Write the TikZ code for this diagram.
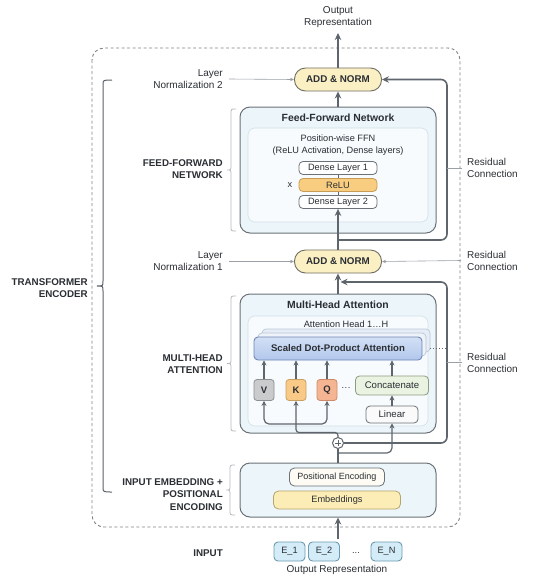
\documentclass[tikz,border=0pt]{standalone}
\usepackage{fontspec}
\setmainfont{Liberation Sans}
\usetikzlibrary{arrows.meta,calc}
\definecolor{txtC}{HTML}{2A2E33}
\definecolor{lineC}{HTML}{5E656C}
\definecolor{thinC}{HTML}{9AA0A6}
\definecolor{dashC}{HTML}{7E8286}
\definecolor{outerF}{HTML}{EBF5FA}
\definecolor{outerD}{HTML}{6B7177}
\definecolor{innerF}{HTML}{F7FBFD}
\definecolor{innerD}{HTML}{D3E1E8}
\definecolor{addF}{HTML}{FBF0C4}
\definecolor{addD}{HTML}{6E6D62}
\definecolor{reluF}{HTML}{F8CD80}
\definecolor{reluD}{HTML}{C89C55}
\definecolor{sdpaT}{HTML}{D3E0F5}
\definecolor{sdpaB}{HTML}{B2C7EC}
\definecolor{sdpaD}{HTML}{6F88B6}
\definecolor{shadF}{HTML}{E7EDF6}
\definecolor{shadD}{HTML}{BAC6D8}
\definecolor{vF}{HTML}{C9CBCC}
\definecolor{vD}{HTML}{8B8F92}
\definecolor{kF}{HTML}{F8C987}
\definecolor{kD}{HTML}{C9A062}
\definecolor{qF}{HTML}{F5B592}
\definecolor{qD}{HTML}{CC8A69}
\definecolor{catF}{HTML}{EAF2E1}
\definecolor{catD}{HTML}{8D9B83}
\definecolor{embF}{HTML}{FBEDB5}
\definecolor{embD}{HTML}{B7A56C}
\definecolor{posF}{HTML}{FDFBF4}
\definecolor{eF}{HTML}{D4ECF7}
\definecolor{eD}{HTML}{6C9BB1}
\definecolor{braceC}{HTML}{B4B9BE}
\definecolor{bigbraceC}{HTML}{5A6067}
\newcommand{\mybrace}[6]{% tip x, line x, end x, top y, bottom y, style
  \draw[#6] (#3,#4) .. controls (#2,#4) .. (#2,{#4+5})
    -- (#2,{(#4+#5)/2-5}) .. controls (#2,{(#4+#5)/2}) .. (#1,{(#4+#5)/2})
    .. controls (#2,{(#4+#5)/2}) .. (#2,{(#4+#5)/2+5})
    -- (#2,{#5-5}) .. controls (#2,#5) .. (#3,#5);}
\begin{document}
\begin{tikzpicture}[x=1pt,y=-1pt,
  lbl/.style={font=\fontsize{10}{12}\selectfont, text=txtC, inner sep=0pt},
  caps/.style={font=\fontsize{9.8}{12.3}\selectfont\bfseries, text=txtC, inner sep=0pt, align=right, anchor=east},
  ttl/.style={font=\fontsize{10.4}{12}\selectfont\bfseries, text=txtC, inner sep=0pt},
  small/.style={font=\fontsize{9.2}{12}\selectfont, text=txtC, inner sep=0pt},
  outerbox/.style={draw=outerD, fill=outerF, line width=1pt, rounded corners=10pt, minimum width=196pt},
  innerbox/.style={draw=innerD, fill=innerF, line width=0.6pt, rounded corners=7pt, minimum width=180pt},
  addbox/.style={draw=addD, fill=addF, line width=0.9pt, rounded corners=11pt, minimum width=87pt, minimum height=23pt, font=\fontsize{9.8}{11}\selectfont\bfseries, text=txtC, inner sep=0pt},
  dense/.style={draw=outerD, fill=white, line width=0.8pt, rounded corners=4pt, minimum width=78pt, minimum height=13pt, font=\fontsize{9.2}{10}\selectfont, text=txtC, inner sep=0pt},
  sq/.style={line width=0.8pt, rounded corners=3pt, minimum width=20pt, minimum height=21pt, font=\fontsize{9.5}{10}\selectfont\bfseries, text=txtC, inner sep=0pt},
  ebox/.style={draw=eD, fill=eF, line width=0.9pt, rounded corners=4pt, minimum width=31pt, minimum height=19pt, font=\fontsize{9.2}{10}\selectfont, text=txtC, inner sep=0pt},
  thk/.style={draw=lineC, line width=1.6pt, rounded corners=6pt},
  thkarr/.style={thk, -{Stealth[length=7pt,width=6.5pt]}},
  med/.style={draw=lineC, line width=1.2pt, rounded corners=5pt},
  medarr/.style={med, -{Stealth[length=5pt,width=5pt]}},
  thinarr/.style={draw=thinC, line width=0.6pt, -{Stealth[length=4pt,width=3.5pt]}},
  thin/.style={draw=thinC, line width=0.6pt}
]
\useasboundingbox (0,0) rectangle (550,582);

% outer dashed frame
\draw[dashC, line width=0.9pt, dash pattern=on 3pt off 2.5pt, rounded corners=12pt] (92,48) rectangle (460,527);

% big brace + label
\mybrace{97}{103}{112}{80}{492}{bigbraceC, line width=1pt}
\node[caps] (tenc) at (88,288) {TRANSFORMER\\ENCODER};

% ---------- top ----------
\node[lbl, align=center] (outtxt) at (338,17) {Output\\Representation};
\coordinate (outend) at (338,33);
\node[addbox] (add2) at (338,79.5) {ADD \& NORM};
\node[lbl, align=right, anchor=east] (ln2) at (223,79) {Layer\\Normalization 2};

% ---------- FFN ----------
\node[outerbox, minimum height=126pt] (ffn) at (338,170) {};
\node[innerbox, minimum height=94pt] (ffnin) at (338,175) {};
\node[ttl] (ffnT) at (338,118) {Feed-Forward Network};
\node[small, align=center] (ffnS) at (338,145) {Position-wise FFN\\(ReLU Activation, Dense layers)};
\node[dense] (dl1) at (338,168) {Dense Layer 1};
\node[dense, draw=reluD, fill=reluF] (relu) at (338,185) {ReLU};
\node[dense] (dl2) at (338,202) {Dense Layer 2};
\node[small] (xmark) at (290,185) {x};
\mybrace{227}{231}{236}{109}{231}{braceC, line width=0.8pt}
\node[caps] (ffnL) at (223,169) {FEED-FORWARD\\NETWORK};
\node[lbl, align=left, anchor=west] (rc1) at (467,168) {Residual\\Connection};

% ---------- ADD & NORM 1 ----------
\node[addbox] (add1) at (338,261.5) {ADD \& NORM};
\node[lbl, align=right, anchor=east] (ln1) at (223,261.5) {Layer\\Normalization 1};
\node[lbl, align=left, anchor=west] (rc2) at (467,260.5) {Residual\\Connection};

% ---------- MHA ----------
\node[outerbox, minimum height=139pt] (mha) at (338,363.5) {};
\node[innerbox, minimum height=110pt] (mhain) at (338,371) {};
\node[ttl] (mhaT) at (338,305) {Multi-Head Attention};
\node[small] (headT) at (346,324) {Attention Head 1…H};
\node[draw=shadD, fill=shadF, line width=0.7pt, rounded corners=4pt, minimum width=168pt, minimum height=23pt] (sh2) at (346,340.5) {};
\node[draw=shadD, fill=shadF!70!white, line width=0.7pt, rounded corners=4pt, minimum width=168pt, minimum height=23pt] (sh1) at (342,344.5) {};
\node[draw=sdpaD, top color=sdpaT, bottom color=sdpaB, line width=0.9pt, rounded corners=4pt, minimum width=168pt, minimum height=23pt, font=\fontsize{9.6}{10}\selectfont\bfseries, text=txtC, inner sep=0pt] (sdpa) at (338,348.5) {Scaled Dot-Product Attention};
\coordinate (dotend) at (447,348.5);
\draw[lineC, line width=1pt, dash pattern=on 1pt off 2pt] (sh2.east |- sdpa.east) -- (dotend);
\node[sq, draw=vD, fill=vF] (vbox) at (264,390) {V};
\node[sq, draw=kD, fill=kF] (kbox) at (296,390) {K};
\node[sq, draw=qD, fill=qF] (qbox) at (327,390) {Q};
\node[small] (mdots) at (346,389) {···};
\node[draw=catD, fill=catF, line width=0.8pt, rounded corners=4pt, minimum width=73pt, minimum height=19pt, font=\fontsize{9.6}{10}\selectfont, text=txtC, inner sep=0pt] (cat) at (392,385.5) {Concatenate};
\node[draw=outerD, fill=white!96!gray, line width=0.8pt, rounded corners=4pt, minimum width=52pt, minimum height=17pt, font=\fontsize{9.6}{10}\selectfont, text=txtC, inner sep=0pt] (lin) at (392,414.5) {Linear};
\node[draw=lineC, fill=white, line width=1pt, circle, minimum size=11pt, inner sep=0pt] (circ) at (338,443) {};
\draw[lineC, line width=0.9pt] ($(circ.center)+(-3,0)$) -- ($(circ.center)+(3,0)$) ($(circ.center)+(0,-3)$) -- ($(circ.center)+(0,3)$);
\mybrace{227}{231}{236}{296}{431}{braceC, line width=0.8pt}
\node[caps] (mhaL) at (223,364) {MULTI-HEAD\\ATTENTION};
\node[lbl, align=left, anchor=west] (rc3) at (467,362.5) {Residual\\Connection};

% ---------- Embedding ----------
\node[outerbox, minimum height=54pt] (emb) at (338,490) {};
\node[draw=outerD, fill=posF, line width=0.8pt, rounded corners=5pt, minimum width=95pt, minimum height=18pt, font=\fontsize{9}{10}\selectfont, text=txtC, inner sep=0pt] (pos) at (337,477) {Positional Encoding};
\node[draw=embD, fill=embF, line width=0.8pt, rounded corners=5pt, minimum width=127pt, minimum height=18pt, font=\fontsize{9.2}{10}\selectfont, text=txtC, inner sep=0pt] (embd) at (337,500) {Embeddings};
\mybrace{226}{230}{235}{465}{515}{braceC, line width=0.8pt}
\node[caps] (embL) at (223,494.5) {INPUT EMBEDDING +\\POSITIONAL\\ENCODING};

% ---------- Input ----------
\node[caps, anchor=east] (inL) at (223,553) {INPUT};
\node[ebox] (e1) at (289.5,551.5) {E\_1};
\node[ebox] (e2) at (324,551.5) {E\_2};
\node[small] (edots) at (356,553) {...};
\node[ebox] (en) at (386.5,551.5) {E\_N};
\node[lbl] (inrep) at (337,570) {Output Representation};
\coordinate (instart) at (338,539);

% ---------- connectors ----------
\draw[thkarr] (add2.north) -- (outend);
\draw[thinarr] ([xshift=6pt]ln2.east) -- (add2.west);
\draw[thkarr] (ffn.north) -- (add2.south);
\draw[thkarr] (add1.north) -- (dl2.south);
\draw[lineC, line width=0.8pt] (dl1.south) -- (relu.north) (relu.south) -- (dl2.north);
\coordinate (r2a) at (338,240);
\coordinate (r2b) at (447,240);
\coordinate (r2c) at (447,79.5);
\draw[thkarr] (r2a) -- (r2b) -- (r2c) -- (add2.east);
\draw[thin] (r2b |- rc1.west) -- ([xshift=-5pt]rc1.west);

\draw[thinarr] ([xshift=6pt]ln1.east) -- (add1.west);
\draw[thinarr] ([xshift=-6pt]rc2.west) -- (add1.east);
\draw[thkarr] (mha.north) -- (add1.south);
\coordinate (r1b) at (447,443);
\coordinate (r1c) at (447,282);
\coordinate (r1d) at (340.5,282);
\draw[thkarr] (circ.east) -- (r1b) -- (r1c) -- (r1d);
\draw[thin] (r1b |- rc3.west) -- ([xshift=-5pt]rc3.west);

% fan-out to V, K, Q
\coordinate (low) at (338,432.5);
\coordinate (fan) at (296,424);
\draw[medarr, rounded corners=3pt] (circ.north) -- (low) -- (low -| kbox.south) -- (kbox.south);
\draw[medarr] (fan) -- (fan -| vbox.south) -- (vbox.south);
\draw[medarr] (fan) -- (fan -| qbox.south) -- (qbox.south);
\draw[medarr] (vbox.north) -- (vbox.north |- sdpa.south);
\draw[medarr] (kbox.north) -- (kbox.north |- sdpa.south);
\draw[medarr] (qbox.north) -- (qbox.north |- sdpa.south);
\draw[medarr] (cat.north) -- (cat.north |- sdpa.south);
\draw[medarr] (lin.north) -- (cat.south);
\coordinate (lfeed) at (338,453);
\draw[medarr] (lfeed) -- (lfeed -| lin.south) -- (lin.south);
\draw[thk] (emb.north) -- (circ.south);
\draw[thkarr] (instart) -- (emb.south);
\end{tikzpicture}
\end{document}
